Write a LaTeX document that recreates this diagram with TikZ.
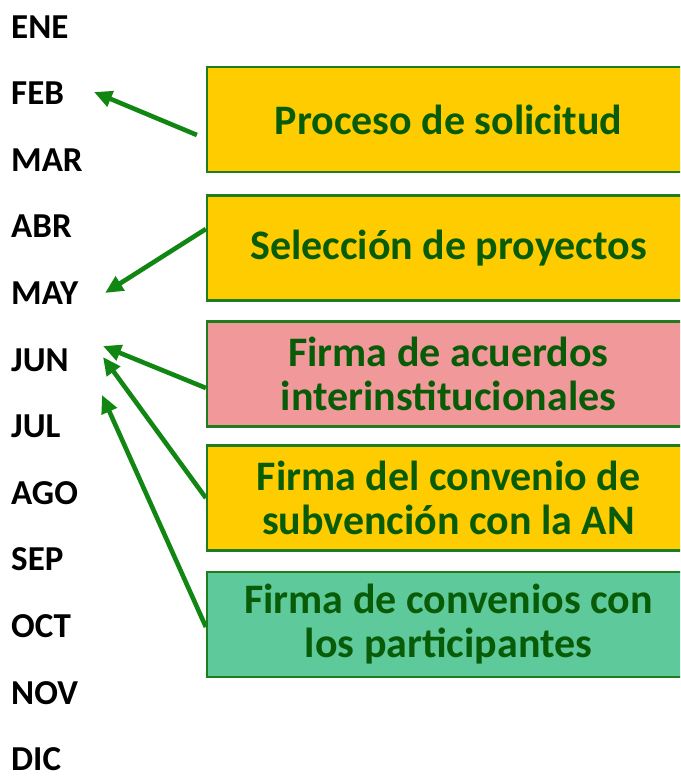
\documentclass[tikz,border=0pt]{standalone}
\usepackage{fontspec}
\setmainfont{Carlito}
\usetikzlibrary{arrows.meta,calc}
\definecolor{txtgreen}{RGB}{8,92,8}
\definecolor{arrgreen}{RGB}{18,134,18}
\definecolor{bordgreen}{RGB}{30,125,30}
\definecolor{boxyellow}{RGB}{255,204,0}
\definecolor{boxpink}{RGB}{240,152,154}
\definecolor{boxmint}{RGB}{94,201,154}
\tikzset{
  month/.style={anchor=base west, inner sep=0pt, text depth=0pt, font=\fontsize{35}{38}\selectfont\bfseries, text=black},
  stagebox/.style={draw=bordgreen, line width=2.2pt, minimum width=483pt, minimum height=105pt,
    inner sep=0pt, align=center, text=txtgreen, font=\fontsize{42}{44}\selectfont\bfseries},
  pointer/.style={draw=arrgreen, line width=4.6pt, -{Triangle[length=18pt,width=16pt]}}
}
\begin{document}
\begin{tikzpicture}[x=1pt,y=-1pt]
\useasboundingbox (0,0) rectangle (680,779);
\clip (0,0) rectangle (680,779);
\fill[white] (0,0) rectangle (680,779);
% months
\foreach \m/\n [count=\i from 0] in {ENE/ene,FEB/feb,MAR/mar,ABR/abr,MAY/may,JUN/jun,JUL/jul,AGO/ago,SEP/sep,OCT/oct,NOV/nov,DIC/dic}{
  \node[month] (\n) at (11,{38+66.6*\i}) {\m};
}
% boxes
\node[stagebox, fill=boxyellow] (b1) at (448.5,119.5) {Proceso de solicitud};
\node[stagebox, fill=boxyellow] (b2) at (448.5,248) {Selección de proyectos};
\node[stagebox, fill=boxpink] (b3) at (448.5,374) {Firma de acuerdos\\interinstitucionales};
\node[stagebox, fill=boxyellow] (b4) at (448.5,498) {Firma del convenio de\\subvención con la AN};
\node[stagebox, fill=boxmint] (b5) at (448.5,624.5) {Firma de convenios con\\los participantes};
% arrow tips
\coordinate (t1) at (94,92);
\coordinate (t2) at (105,293);
\coordinate (t3) at (103,346);
\coordinate (t4) at (103,357);
\coordinate (t5) at (102,395);
\draw[pointer] ($(b1.west)+(-9,15.5)$) -- (t1);
\draw[pointer] ($(b2.west)+(0,-19)$) -- (t2);
\draw[pointer] ($(b3.west)+(0,14)$) -- (t3);
\draw[pointer] ($(b4.west)+(0,0)$) -- (t4);
\draw[pointer] ($(b5.west)+(0,2.5)$) -- (t5);
\end{tikzpicture}
\end{document}
